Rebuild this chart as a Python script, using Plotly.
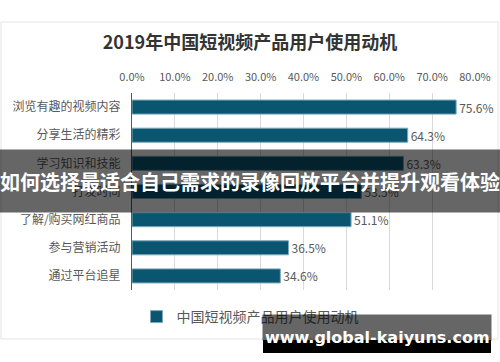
import plotly.graph_objects as go

categories = ["浏览有趣的视频内容", "分享生活的精彩", "学习知识和技能", "打发时间",
              "了解/购买网红商品", "参与营销活动", "通过平台追星"]
values = [0.756, 0.643, 0.633, 0.535, 0.511, 0.365, 0.346]
series_name = "中国短视频产品用户使用动机"
title_text = "2019年中国短视频产品用户使用动机"
banner_text = "如何选择最适合自己需求的录像回放平台并提升观看体验"
watermark_text = "www.global-kaiyuns.com"

FONT = "Noto Sans CJK SC"
W, H = 500, 362
L, R, T, B = 132, 25, 93, 72
pw, ph = W - L - R, H - T - B

def px_x(x):
    return (x - L) / pw

def px_y(y):
    return (H - B - y) / ph

fig = go.Figure()
fig.add_trace(go.Bar(
    y=categories, x=values, orientation="h", name=series_name,
    marker=dict(color="#0a5670", line=dict(color="#7fa9bb", width=1)),
    texttemplate="%{x:.1%}", textposition="outside", constraintext="none",
    textfont=dict(family=FONT, size=12, color="#595959"),
    cliponaxis=False,
))

fig.update_layout(
    width=W, height=H,
    margin=dict(l=L, r=R, t=T, b=B, autoexpand=False),
    paper_bgcolor="white", plot_bgcolor="white",
    bargap=0.5,
    showlegend=True,
    legend=dict(orientation="h", x=0.5, xanchor="center", xref="container",
                y=1 - 317 / H, yanchor="middle", yref="container",
                bgcolor="rgba(0,0,0,0)",
                font=dict(family=FONT, size=14, color="#595959")),
    title=dict(text=title_text, x=0.5, xanchor="center", y=1 - 43 / H, yanchor="middle",
               yref="container", font=dict(family=FONT, size=18, color="#333333", weight="bold")),
    xaxis=dict(side="top", range=[0, 0.8], dtick=0.1, tickformat=".1%", automargin=False,
               showgrid=True, gridcolor="#d9d9d9", gridwidth=1, zeroline=False,
               showline=False, ticks="", ticklabelstandoff=9,
               tickfont=dict(family=FONT, size=11, color="#595959")),
    yaxis=dict(autorange="reversed", showline=True, linecolor="#595959", linewidth=1,
               ticks="", showgrid=False, automargin=False, ticklabelstandoff=8,
               tickfont=dict(family=FONT, size=12, color="#595959")),
    font=dict(family=FONT),
)

# chart frame
fig.add_shape(type="rect", xref="paper", yref="paper",
              x0=px_x(1), x1=px_x(498), y0=px_y(22), y1=px_y(339),
              line=dict(color="#e3e3e3", width=1), fillcolor="rgba(0,0,0,0)", layer="below")

# banner overlay (annotation box so it covers everything beneath)
fig.add_annotation(text=banner_text, xref="paper", yref="paper",
                   x=px_x(250), y=px_y(181), xanchor="center", yanchor="middle",
                   showarrow=False,
                   width=500, height=62, bgcolor="rgba(0,0,0,0.6)", borderpad=0,
                   font=dict(family=FONT, size=20, color="white", weight="bold"))

# watermark
fig.add_shape(type="rect", xref="paper", yref="paper",
              x0=px_x(263), x1=px_x(491), y0=px_y(340), y1=px_y(353),
              line=dict(width=0), fillcolor="black", layer="above")
fig.add_annotation(text=" ", xref="paper", yref="paper",
                   x=px_x(377), y=px_y(327.5), xanchor="center", yanchor="middle",
                   showarrow=False,
                   width=228, height=25, bgcolor="rgba(0,0,0,0.6)", borderpad=0,
                   font=dict(size=10))
fig.add_annotation(text=watermark_text, xref="paper", yref="paper",
                   x=px_x(377), y=px_y(337), xanchor="center", yanchor="middle",
                   showarrow=False,
                   font=dict(family="DejaVu Sans", size=16, color="white", weight="bold"))

fig.write_html("out.html", config={"displayModeBar": False},
               post_script="document.body.style.margin='0';")
